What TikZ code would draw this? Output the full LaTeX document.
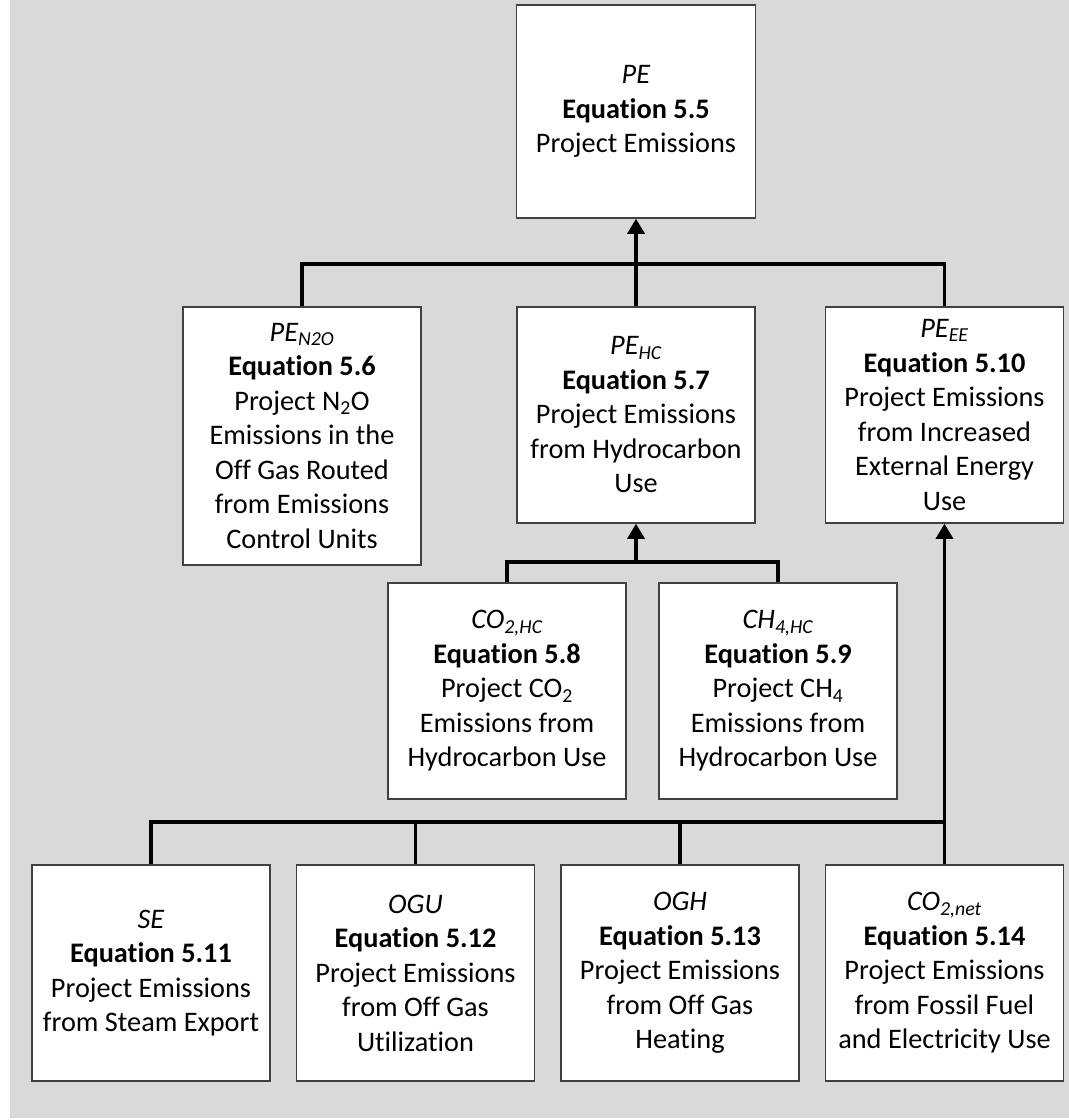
\documentclass[tikz,border=0pt]{standalone}
\usepackage{fontspec}
\setmainfont{Carlito}[Ligatures={NoCommon}]
\usetikzlibrary{arrows.meta}
\definecolor{bggray}{HTML}{D9D9D9}
\definecolor{boxline}{HTML}{404040}
\tikzset{
  eqbox/.style={draw=boxline, line width=1.5pt, fill=white, align=center,
    minimum width=238pt, minimum height=216pt, inner sep=0pt,
    font=\fontsize{28.3}{34.5}\selectfont},
  conn/.style={draw=black, line width=3.2pt},
  uparrow/.style={conn, -{Triangle[length=15pt,width=17pt]}},
}
\begin{document}
\begin{tikzpicture}[x=1pt,y=-1pt]
\useasboundingbox (0,0) rectangle (1069,1120);
\fill[bggray] (10,0) rectangle (1069,1118);

\node[eqbox, minimum width=239pt, minimum height=213pt] (pe) at (636,111.5)
  {\textit{PE}\\ \textbf{Equation 5.5}\\ Project Emissions};
\node[eqbox, minimum height=258pt] (n2o) at (302,436)
  {\textit{PE\textsubscript{N2O}}\\ \textbf{Equation 5.6}\\ Project N\textsubscript{2}O\\ Emissions in the\\ Off Gas Routed\\ from Emissions\\ Control Units};
\node[eqbox] (hc) at (636,415)
  {\textit{PE\textsubscript{HC}}\\ \textbf{Equation 5.7}\\ Project Emissions\\ from Hydrocarbon\\ Use};
\node[eqbox] (ee) at (944.5,415)
  {\textit{PE\textsubscript{EE}}\\ \textbf{Equation 5.10}\\ Project Emissions\\ from Increased\\ External Energy\\ Use};
\node[eqbox] (co2hc) at (507,691)
  {\textit{CO\textsubscript{2,HC}}\\ \textbf{Equation 5.8}\\ Project CO\textsubscript{2}\\ Emissions from\\ Hydrocarbon Use};
\node[eqbox] (ch4hc) at (778,691)
  {\textit{CH\textsubscript{4,HC}}\\ \textbf{Equation 5.9}\\ Project CH\textsubscript{4}\\ Emissions from\\ Hydrocarbon Use};
\node[eqbox] (se) at (151,973)
  {\textit{SE}\\ \textbf{Equation 5.11}\\ Project Emissions\\ from Steam Export};
\node[eqbox] (ogu) at (415.5,973)
  {\textit{OGU}\\ \textbf{Equation 5.12}\\ Project Emissions\\ from Off Gas\\ Utilization};
\node[eqbox] (ogh) at (680,973)
  {\textit{OGH}\\ \textbf{Equation 5.13}\\ Project Emissions\\ from Off Gas\\ Heating};
\node[eqbox] (co2net) at (944.5,973)
  {\textit{CO\textsubscript{2,net}}\\ \textbf{Equation 5.14}\\ Project Emissions\\ from Fossil Fuel\\ and Electricity Use};

% top bus
\coordinate (busA) at (636,264);
\draw[conn] (n2o.north) |- (busA) -| (ee.north);
\draw[uparrow] (hc.north) -- (pe.south);

% middle bus
\coordinate (busB) at (636,562);
\draw[conn] (co2hc.north) |- (busB) -| (ch4hc.north);
\draw[uparrow] (busB) -- (hc.south);

% bottom bus
\coordinate (busC) at (944.5,822);
\draw[conn] (se.north) |- (busC);
\draw[conn] (ogu.north) -- (ogu.north |- busC);
\draw[conn] (ogh.north) -- (ogh.north |- busC);
\draw[uparrow] (co2net.north) -- (ee.south);
\end{tikzpicture}
\end{document}
